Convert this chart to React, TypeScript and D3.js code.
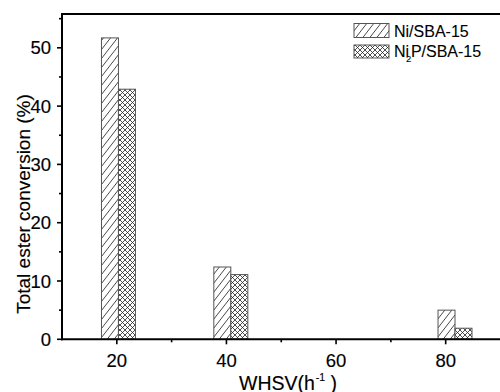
import React from "react";
import * as d3 from "d3";

const series = ["Ni/SBA-15", "Ni2P/SBA-15"];
const whsv = [20.3, 40.8, 81.7];
const niValues = [51.7, 12.4, 5.0];
const ni2pValues = [42.9, 11.1, 1.9];
const xTicks = [20, 40, 60, 80];
const xMinorTicks = [30, 50, 70];
const yTicks = [0, 10, 20, 30, 40, 50];
const yMinorTicks = [5, 15, 25, 35, 45, 55];

const W = 500;
const H = 392;
const FONT = "Arial, 'Liberation Sans', Helvetica, sans-serif";

export default function App() {
  const x = d3.scaleLinear().domain([10, 90]).range([62, 500.5]);
  const y = d3.scaleLinear().domain([0, 55.8]).range([339.3, 14]);
  const barW = 3.1; // data units
  const bw = x(10 + barW) - x(10);
  const stroke = "#555";

  return (
    <svg
      width={W}
      height={H}
      style={{ position: "absolute", left: 0, top: 0, background: "#fff" }}
      fontFamily={FONT}
      fill="#000"
    >
      <defs>
        <pattern id="hatch" patternUnits="userSpaceOnUse" width="7" height="9">
          <rect width="7" height="9" fill="#fff" />
          <line x1="-1" y1="10.3" x2="8" y2="-1.3" stroke="#333" strokeWidth="0.9" />
          <line x1="6" y1="10.3" x2="15" y2="-1.3" stroke="#333" strokeWidth="0.9" />
          <line x1="-8" y1="10.3" x2="1" y2="-1.3" stroke="#333" strokeWidth="0.9" />
        </pattern>
        <pattern id="cross" patternUnits="userSpaceOnUse" width="5" height="5">
          <rect width="5" height="5" fill="#fff" />
          <path d="M-1,6 L6,-1 M-1,1 L1,-1 M4,6 L6,4" stroke="#222" strokeWidth="0.8" />
          <path d="M-1,-1 L6,6 M-1,4 L1,6 M4,-1 L6,1" stroke="#222" strokeWidth="0.8" />
        </pattern>
      </defs>

      {/* bars */}
      {whsv.map((c, i) => (
        <g key={"b" + i}>
          <rect
            x={x(c) - bw}
            y={y(niValues[i])}
            width={bw}
            height={y(0) - y(niValues[i])}
            fill="url(#hatch)"
            stroke={stroke}
            strokeWidth={1}
          />
          <rect
            x={x(c)}
            y={y(ni2pValues[i])}
            width={bw}
            height={y(0) - y(ni2pValues[i])}
            fill="url(#cross)"
            stroke={stroke}
            strokeWidth={1}
          />
        </g>
      ))}

      {/* axes */}
      <line x1={x(10)} y1={y(55.8)} x2={W} y2={y(55.8)} stroke="#000" strokeWidth={2} />
      <line x1={x(10)} y1={y(55.8) - 1} x2={x(10)} y2={y(0) + 1} stroke="#000" strokeWidth={2} />
      <line x1={x(10) - 1} y1={y(0)} x2={W} y2={y(0)} stroke="#000" strokeWidth={2} />

      {yTicks.map((t) => (
        <g key={"yt" + t}>
          <line x1={x(10) - 5} x2={x(10)} y1={y(t)} y2={y(t)} stroke="#000" strokeWidth={1.6} />
          <text x={x(10) - 11} y={y(t)} dy="0.36em" textAnchor="end" fontSize={18.5} stroke="#000" strokeWidth={0.15}>
            {t}
          </text>
        </g>
      ))}
      {yMinorTicks.map((t) => (
        <line key={"ym" + t} x1={x(10) - 3} x2={x(10)} y1={y(t)} y2={y(t)} stroke="#000" strokeWidth={1.6} />
      ))}
      {xTicks.map((t) => (
        <g key={"xt" + t}>
          <line x1={x(t)} x2={x(t)} y1={y(0)} y2={y(0) + 5} stroke="#000" strokeWidth={1.6} />
          <text x={x(t)} y={366.5} textAnchor="middle" fontSize={18.5} stroke="#000" strokeWidth={0.15}>
            {t}
          </text>
        </g>
      ))}
      {xMinorTicks.map((t) => (
        <line key={"xm" + t} x1={x(t)} x2={x(t)} y1={y(0)} y2={y(0) + 3} stroke="#000" strokeWidth={1.6} />
      ))}

      {/* axis titles */}
      <text x={239} y={389.5} fontSize={19.5} stroke="#000" strokeWidth={0.15}>
        WHSV(h
        <tspan fontSize={10.5} dy={-9} dx={1}>-1</tspan>
        <tspan dy={9}> )</tspan>
      </text>
      <text
        transform={`translate(29.5,${204}) rotate(-90)`}
        textAnchor="middle"
        fontSize={19}
        stroke="#000"
        strokeWidth={0.15}
      >
        Total ester conversion (%)
      </text>

      {/* legend */}
      <rect x={354} y={23.5} width={35} height={14} fill="url(#hatch)" stroke={stroke} strokeWidth={1} />
      <text x={394} y={37} fontSize={16} stroke="#000" strokeWidth={0.1}>
        {series[0]}
      </text>
      <rect x={354} y={45} width={35} height={13} fill="url(#cross)" stroke={stroke} strokeWidth={1} />
      <text x={394} y={57} fontSize={16} stroke="#000" strokeWidth={0.1}>
        Ni
        <tspan fontSize={9.5} dy={5} dx={-3}>2</tspan>
        <tspan dy={-5} dx={-0.5}>P/SBA-15</tspan>
      </text>
    </svg>
  );
}
